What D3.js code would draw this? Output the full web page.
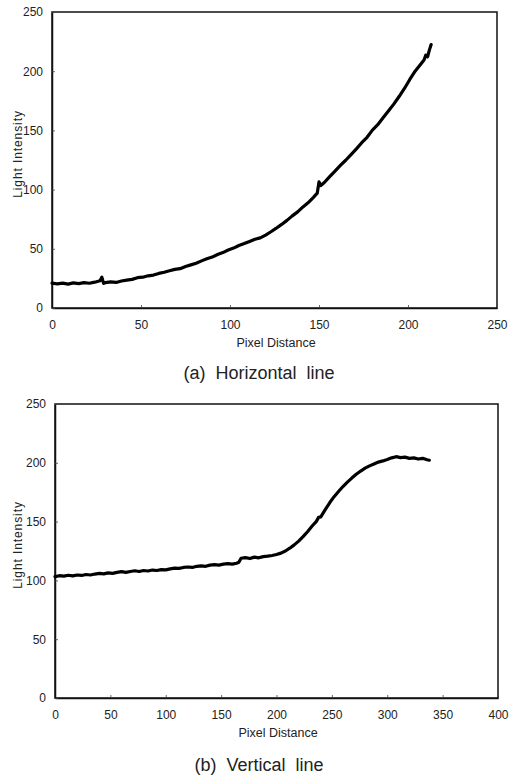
<!DOCTYPE html>
<html><head><meta charset="utf-8">
<script src="https://cdn.jsdelivr.net/npm/d3@7"></script>
<style>body{margin:0;background:#fff}svg{display:block}text{font-family:"Liberation Sans",Arial,sans-serif;fill:#222}</style>
</head><body><svg id="c" width="518" height="776"></svg>
<script>
const xTicksA = [0,50,100,150,200,250];
const yTicksA = [0,50,100,150,200,250];
const xTicksB = [0,50,100,150,200,250,300,350,400];
const yTicksB = [0,50,100,150,200,250];
const xA = [0,3,6,9,12,15,18,21,24,27,28,29,30,33,36,39,42,45,48,51,54,57,60,63,66,69,72,75,78,81,84,87,90,93,96,99,102,105,108,111,114,117,120,123,126,129,132,135,138,141,144,147,149,150,151,153,156,159,162,165,168,171,174,177,180,183,186,189,192,195,198,201,204,207,209,210,211,212,213];
const yA = [21.0,20.4,21.0,20.2,21.2,20.6,21.4,20.9,21.8,23.0,26.0,20.8,21.4,22.0,21.6,22.8,23.6,24.2,25.6,26.0,27.2,27.8,29.2,30.2,31.4,32.6,33.2,35.0,36.4,37.8,39.8,41.6,43.0,45.2,46.8,49.0,50.6,52.8,54.4,56.2,58.0,59.2,61.6,64.4,67.4,70.6,74.0,77.8,81.2,85.4,89.0,93.6,97.0,106.5,103.5,106.0,111.0,115.6,120.4,124.8,129.6,134.4,139.6,144.2,150.2,154.8,160.6,166.4,172.2,178.6,185.4,193.0,200.0,205.6,209.4,213.6,212.2,217.8,222.5];
const xB = [0,4,8,12,16,20,24,28,32,36,40,44,48,52,56,60,64,68,72,76,80,84,88,92,96,100,104,108,112,116,120,124,128,132,136,140,144,148,152,156,160,164,166,168,172,176,180,184,188,192,196,200,204,208,212,216,220,224,228,232,236,238,240,244,248,252,256,260,264,268,272,276,280,284,288,292,296,300,304,308,312,316,320,324,328,332,336,338];
const yB = [103.2,104.0,103.6,104.4,103.8,104.6,104.2,105.0,104.6,105.4,106.0,105.6,106.4,106.0,106.8,107.4,106.8,107.6,108.2,107.6,108.4,108.0,108.8,108.4,109.2,109.0,109.8,110.4,110.2,111.0,111.4,111.0,112.0,112.4,112.0,113.0,113.4,113.0,113.8,114.2,113.8,114.6,115.4,118.8,119.4,118.6,119.8,119.2,120.2,120.6,121.2,122.0,123.2,125.0,127.4,130.2,133.4,137.2,141.4,146.0,150.2,153.6,154.0,160.2,166.0,171.2,175.6,179.8,183.6,187.0,190.2,193.0,195.4,197.4,199.0,200.6,201.6,202.8,204.2,205.2,204.4,204.8,203.8,204.2,203.2,203.8,202.6,202.2];

const svg = d3.select("#c");

function drawChart(o){
  const x = d3.scaleLinear().domain([o.xTicks[0], o.xTicks[o.xTicks.length-1]]).range([o.left, o.right]);
  const y = d3.scaleLinear().domain([0, 250]).range([o.bottom, o.top]);
  const g = svg.append("g");
  g.append("rect").attr("x", o.left).attr("y", o.top).attr("width", o.right-o.left).attr("height", o.bottom-o.top)
    .attr("fill","none").attr("stroke","#111").attr("stroke-width",1.5);
  const ax = g.append("g").attr("transform",`translate(0,${o.bottom})`)
    .call(d3.axisBottom(x).tickValues(o.xTicks).tickSizeInner(-3).tickSizeOuter(0).tickPadding(12));
  const ay = g.append("g").attr("transform",`translate(${o.left},0)`)
    .call(d3.axisLeft(y).tickValues(o.yTicks).tickSizeInner(-3).tickSizeOuter(0).tickPadding(9));
  [ax, ay].forEach(a=>{
    a.select(".domain").attr("stroke","#111").attr("stroke-width",1.5);
    a.selectAll(".tick line").attr("stroke","#444").attr("stroke-width",0.8);
    a.selectAll(".tick text").attr("font-size",12).attr("fill","#333").style("font-family",'"Liberation Sans",Arial,sans-serif');
  });
  const pts = o.xs.map((v,i)=>[v,o.ys[i]]);
  g.append("path").datum(pts)
    .attr("d", d3.line().x(d=>x(d[0])).y(d=>y(d[1])))
    .attr("fill","none").attr("stroke","#000").attr("stroke-width",3.2).attr("stroke-linejoin","round").attr("stroke-linecap","round");
  g.append("text").attr("x",(o.left+o.right)/2+1.5).attr("y",o.bottom+39).attr("text-anchor","middle")
    .attr("font-size",12.5).attr("fill","#333").text("Pixel Distance");
  g.append("text").attr("transform",`translate(22,${(o.top+o.bottom)/2-6}) rotate(-90)`).attr("text-anchor","middle")
    .attr("font-size",12).attr("letter-spacing",0.9).attr("fill","#333").text("Light Intensity");
  g.append("text").attr("x",259).attr("y",o.capY).attr("text-anchor","middle")
    .attr("font-size",18).attr("word-spacing",5).attr("fill","#222").text(o.caption);
}

drawChart({left:52, right:497, top:12, bottom:308, xTicks:xTicksA, yTicks:yTicksA, xs:xA, ys:yA, caption:"(a) Horizontal line", capY:379});
drawChart({left:55, right:498, top:404, bottom:698, xTicks:xTicksB, yTicks:yTicksB, xs:xB, ys:yB, caption:"(b) Vertical line", capY:771});
</script></body></html>
